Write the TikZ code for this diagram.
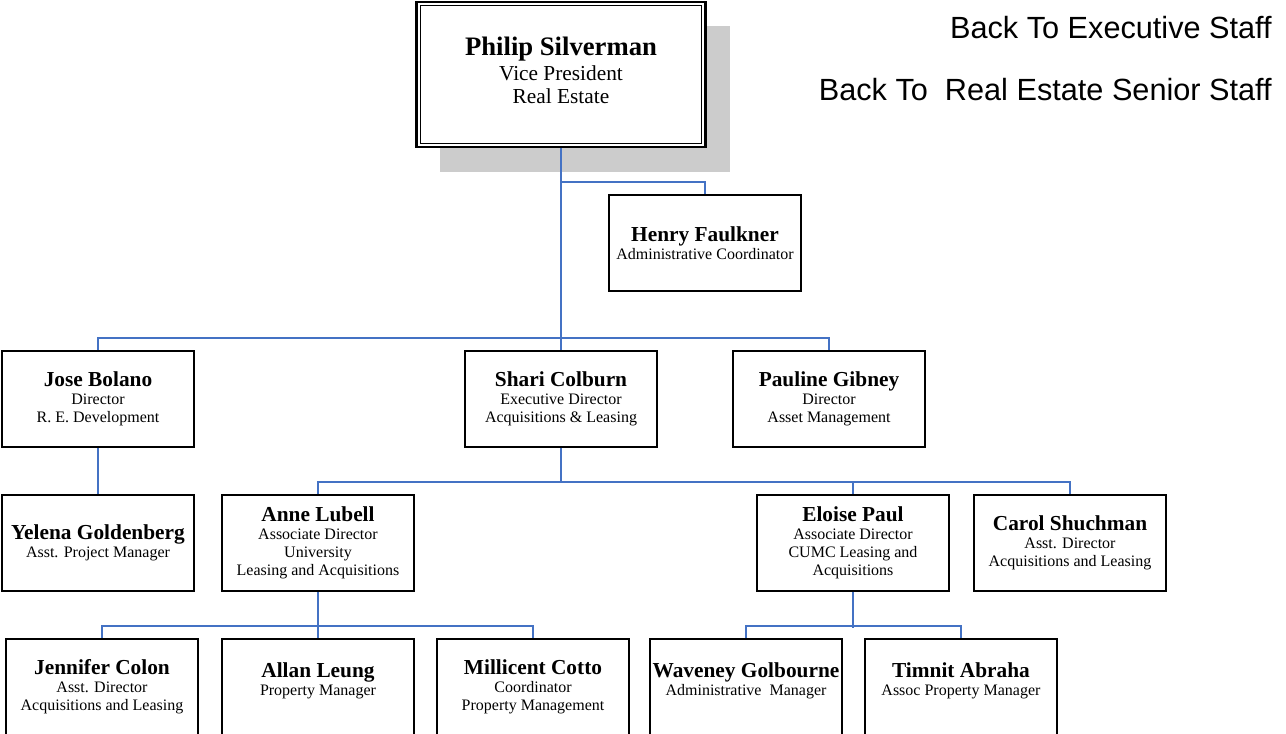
\documentclass[tikz,border=0pt]{standalone}
\usepackage{fontspec}
\setmainfont{Liberation Serif}
\newfontfamily\arialfont{Liberation Sans}
\definecolor{connblue}{HTML}{4472C4}
\definecolor{shadowgray}{HTML}{CCCCCC}
\tikzset{
  box/.style={draw=black, line width=1.3pt, fill=white, minimum width=144pt, minimum height=72pt,
    inner sep=0pt, align=center, font=\fontsize{12}{13.6}\selectfont},
  raised/.style={text depth=12pt},
  topbox/.style={draw=black, line width=1.6pt, fill=white, minimum width=216.75pt, minimum height=108.75pt,
    inner sep=0pt, align=center, font=\fontsize{16}{17.5}\selectfont},
  conn/.style={draw=connblue, line width=1.4pt},
  link/.style={font=\arialfont\fontsize{23}{26}\selectfont, anchor=east, inner sep=0pt},
}
\newcommand\nm[1]{{\fontsize{16}{18}\selectfont\bfseries #1}}
\begin{document}
\begin{tikzpicture}[x=0.75pt,y=-0.75pt]
\useasboundingbox (0,0) rectangle (1286,733);
% shadow of top box
\fill[shadowgray] (440,26) rectangle (730,172);
% top box
\node[topbox, text depth=6pt] (philip) at (561,74.5) {{\fontsize{20}{22}\selectfont\bfseries Philip Silverman}\\[1pt]Vice President\\Real Estate};
\draw[line width=0.8pt] ([shift={(5,5)}]philip.north west) rectangle ([shift={(-5,-5)}]philip.south east);
% boxes
\node[box] (henry) at (705,243) {\nm{Henry Faulkner}\\Administrative Coordinator};
\node[box] (jose) at (98,399) {\nm{Jose Bolano}\\Director\\R. E. Development};
\node[box] (shari) at (561,399) {\nm{Shari Colburn}\\Executive Director\\Acquisitions \& Leasing};
\node[box] (pauline) at (829,399) {\nm{Pauline Gibney}\\Director\\Asset Management};
\node[box] (yelena) at (98,543) {\nm{Yelena Goldenberg}\\Asst. Project Manager};
\node[box] (anne) at (318,543) {\nm{Anne Lubell}\\Associate Director\\University\\Leasing and Acquisitions};
\node[box] (eloise) at (853,543) {\nm{Eloise Paul}\\Associate Director\\CUMC Leasing and\\Acquisitions};
\node[box] (carol) at (1070,543) {\nm{Carol Shuchman}\\Asst. Director\\Acquisitions and Leasing};
\node[box] (jennifer) at (102,687) {\nm{Jennifer Colon}\\Asst. Director\\Acquisitions and Leasing};
\node[box,raised] (allan) at (318,687) {\nm{Allan Leung}\\Property Manager};
\node[box] (millicent) at (533,687) {\nm{Millicent Cotto}\\Coordinator\\Property Management};
\node[box,raised] (waveney) at (746,687) {\nm{Waveney Golbourne}\\Administrative\ \ Manager};
\node[box,raised] (timnit) at (961,687) {\nm{Timnit Abraha}\\Assoc Property Manager};
% connectors
\coordinate (hbr) at (561,182);
\coordinate (b2) at (561,483);
\draw[conn] (philip.south) -- (shari.north);
\draw[conn] (hbr) -| (henry.north);
\draw[conn] (jose.north) -- ++(0,-12) -| (pauline.north);
\draw[conn] (jose.south) -- (yelena.north);
\draw[conn] (shari.south) -- (b2);
\draw[conn] (anne.north) -- ++(0,-12) -| (carol.north);
\draw[conn] (eloise.north) -- ++(0,-12);
\draw[conn] (anne.south) -- (allan.north);
\draw[conn] (jennifer.north) -- ++(0,-12) -| (millicent.north);
\draw[conn] (eloise.south) -- ++(0,36);
\draw[conn] (waveney.north) -- ++(0,-12) -| (timnit.north);
% links
\node[link] (exec) at (1272,28) {Back To Executive Staff};
\node[link] (senior) at (1272,90) {Back To\ \ Real Estate Senior Staff};
\end{tikzpicture}
\end{document}
